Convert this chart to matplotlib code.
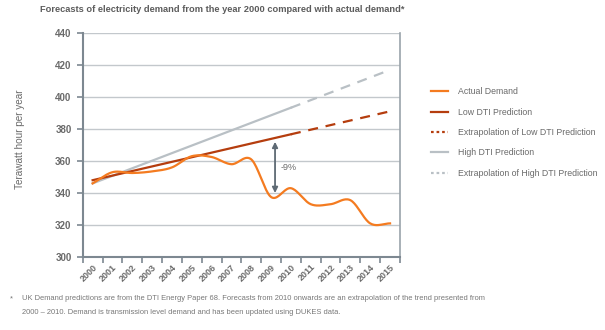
import numpy as np
import matplotlib
matplotlib.use("Agg")
import matplotlib.pyplot as plt
from matplotlib.lines import Line2D

plt.rcParams['font.family'] = ['Liberation Sans', 'DejaVu Sans']

years = list(range(2000, 2016))
actual = [346, 353, 352.5, 353.5, 356, 363, 362.5, 358, 361, 337.5, 343, 333, 333, 335.5, 321, 321]
low_years = list(range(2000, 2011))
low_pred = [348 + 2.87 * i for i in range(11)]
low_ext_years = list(range(2010, 2016))
low_ext = [348 + 2.87 * (y - 2000) for y in low_ext_years]
high_pred = [346 + 4.73 * i for i in range(11)]
high_ext = [346 + 4.73 * (y - 2000) for y in low_ext_years]
gap_year = 2009.2
gap_low, gap_high = 340, 372
gap_label = "-9%"

ORANGE = '#f47b20'
RED = '#b53d0e'
GREY = '#b9c0c5'
TXT = '#6a6a6a'
AX = '#7d8891'

def catmull(x, y, n=20):
    x = np.asarray(x, float); y = np.asarray(y, float)
    xp = np.concatenate([[2*x[0]-x[1]], x, [2*x[-1]-x[-2]]])
    yp = np.concatenate([[2*y[0]-y[1]], y, [2*y[-1]-y[-2]]])
    xs, ys = [], []
    for i in range(1, len(xp)-2):
        t = np.linspace(0, 1, n, endpoint=False)
        for arr, out in ((xp, xs), (yp, ys)):
            p0, p1, p2, p3 = arr[i-1], arr[i], arr[i+1], arr[i+2]
            out.extend(0.5*((2*p1) + (-p0+p2)*t + (2*p0-5*p1+4*p2-p3)*t**2 + (-p0+3*p1-3*p2+p3)*t**3))
    xs.append(x[-1]); ys.append(y[-1])
    return np.array(xs), np.array(ys)

fig = plt.figure(figsize=(6.05, 3.3), dpi=100)
ax = fig.add_axes([0.1367, 0.2212, 0.5244, 0.6788])

ax.set_ylim(300, 440)
ax.set_xlim(1999.5, 2015.5)
ax.set_yticks(range(300, 441, 20))
for v in range(320, 441, 20):
    ax.axhline(v, color='#c3c8cc', lw=1.0, zorder=0)

ax.plot(low_years, high_pred, color=GREY, lw=1.6, zorder=2)
ax.plot(low_ext_years, high_ext, color=GREY, lw=1.6, dashes=(4.5, 3.5), zorder=2)
ax.plot(low_years, low_pred, color=RED, lw=1.6, zorder=3)
ax.plot(low_ext_years, low_ext, color=RED, lw=1.6, dashes=(4.5, 3.5), zorder=3)
sx, sy = catmull(years, actual)
ax.plot(sx, sy, color=ORANGE, lw=1.6, zorder=4)

ax.annotate('', xy=(gap_year, gap_high), xytext=(gap_year, gap_low),
            arrowprops=dict(arrowstyle='<|-|>', color='#5e6a74', lw=1.3, mutation_scale=8,
                            shrinkA=0, shrinkB=0), zorder=5)
ax.text(gap_year + 0.3, (gap_low + gap_high) / 2, gap_label, fontsize=6.5, color=TXT,
        va='center', ha='left')

ax.spines['top'].set_visible(False)
ax.spines['left'].set_color(AX); ax.spines['left'].set_linewidth(1.5)
ax.spines['bottom'].set_color(AX); ax.spines['bottom'].set_linewidth(1.5)
ax.spines['right'].set_color('#9aa3aa'); ax.spines['right'].set_linewidth(1.2)

ax.tick_params(axis='y', length=4, width=1.2, color=AX, labelsize=7, labelcolor=TXT, pad=4)
for lab in ax.get_yticklabels():
    lab.set_fontweight('bold')

ax.set_xticks(np.arange(1999.5, 2016, 1))
ax.set_xticklabels([])
ax.tick_params(axis='x', which='major', length=4, width=1.2, color=AX)
ax.set_xticks(years, minor=True)
ax.set_xticklabels([str(y) for y in years], minor=True, rotation=45, ha='right', va='top',
                   rotation_mode='anchor', fontsize=6.5, color=TXT, fontweight='bold')
ax.tick_params(axis='x', which='minor', length=0, pad=4)

ax.set_ylabel('Terawatt hour per year', fontsize=7.2, color=TXT)
ax.yaxis.set_label_coords(-0.183, 0.527)

fig.text(40/605, 1 - 10/330, 'Forecasts of electricity demand from the year 2000 compared with actual demand*',
         fontsize=6.7, fontweight='bold', color='#5c5c5c', va='center', ha='left')

handles = [
    Line2D([], [], color=ORANGE, lw=1.6),
    Line2D([], [], color=RED, lw=1.6),
    Line2D([], [], color=RED, lw=1.6, ls=(0, (1.2, 1.3))),
    Line2D([], [], color=GREY, lw=1.6),
    Line2D([], [], color=GREY, lw=1.6, ls=(0, (1.2, 1.3))),
]
labels = ['Actual Demand', 'Low DTI Prediction', 'Extrapolation of Low DTI Prediction',
          'High DTI Prediction', 'Extrapolation of High DTI Prediction']
leg = fig.legend(handles, labels, loc='upper left', bbox_to_anchor=(427/605, 1 - 84/330),
                 frameon=False, fontsize=6.3, labelcolor=TXT, handlelength=2.05,
                 handletextpad=1.15, labelspacing=1.29, borderaxespad=0)

foot_fam = ['Liberation Sans', 'DejaVu Sans']
fig.text(10/605, 1 - 299/330, '*', fontsize=5.4, color='#777777', family=foot_fam, va='center')
fig.text(22/605, 1 - 299/330,
         'UK Demand predictions are from the DTI Energy Paper 68. Forecasts from 2010 onwards are an extrapolation of the trend presented from',
         fontsize=5.4, color='#777777', family=foot_fam, va='center')
fig.text(22/605, 1 - 313/330,
         '2000 \u2013 2010. Demand is transmission level demand and has been updated using DUKES data.',
         fontsize=5.4, color='#777777', family=foot_fam, va='center')

fig.savefig('out.png', dpi=100)
